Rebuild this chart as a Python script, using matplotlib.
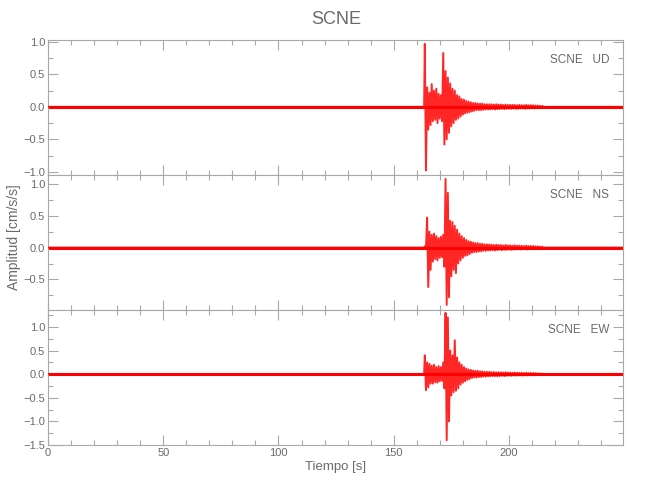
import numpy as np
import matplotlib
matplotlib.use("Agg")
import matplotlib.pyplot as plt
from matplotlib.ticker import MultipleLocator

# Colores estilo IDL
GRIS_EJE = "#a8a8a8"
GRIS_TXT = "#6a6a6a"
ROJO = "#ff0000"
FUENTE = ["Liberation Sans", "DejaVu Sans"]

estacion = "SCNE"
componentes = ["UD", "NS", "EW"]

# registro completo y ventana con movimiento fuerte
t_ini, t_fin = 0.0, 249.5
t0_evento = 163.5      # primer pico leido
dt = 1.0               # paso entre picos leidos [s]

# picos positivos / negativos por segundo
ud_max = [0.97, 0.30, 0.22, 0.35, 0.25, 0.28, 0.20, 0.18, 0.83, 0.55,
          0.45, 0.36, 0.28, 0.25, 0.18, 0.16, 0.12, 0.11, 0.09, 0.08,
          0.07, 0.06, 0.06, 0.05, 0.05, 0.05, 0.04, 0.04,
          0.04, 0.04, 0.035, 0.04, 0.035, 0.035, 0.03, 0.035, 0.03, 0.03,
          0.03, 0.03, 0.025, 0.03, 0.025, 0.025, 0.03, 0.025, 0.025, 0.025,
          0.02, 0.02, 0.015, 0.015]
ud_min = [-0.98, -0.35, -0.28, -0.22, -0.20, -0.25, -0.18, -0.22, -0.58, -0.50,
          -0.40, -0.30, -0.25, -0.20, -0.18, -0.15, -0.12, -0.10, -0.09, -0.08,
          -0.07, -0.06, -0.05, -0.05, -0.05, -0.045, -0.04, -0.04,
          -0.04, -0.035, -0.04, -0.035, -0.035, -0.03, -0.035, -0.03, -0.03, -0.03,
          -0.025, -0.03, -0.03, -0.025, -0.025, -0.03, -0.025, -0.025, -0.02, -0.025,
          -0.02, -0.02, -0.015, -0.015]

ns_max = [0.02, 0.47, 0.25, 0.20, 0.22, 0.18, 0.15, 0.17, 0.20, 1.08,
          0.86, 0.42, 0.40, 0.34, 0.28, 0.22, 0.18, 0.15, 0.12, 0.10,
          0.09, 0.08, 0.07, 0.07, 0.06, 0.06, 0.05, 0.05,
          0.05, 0.045, 0.04, 0.045, 0.04, 0.04, 0.035, 0.04, 0.035, 0.035,
          0.03, 0.035, 0.03, 0.03, 0.03, 0.025, 0.03, 0.025, 0.025, 0.025,
          0.02, 0.02, 0.015, 0.015]
ns_min = [-0.02, -0.62, -0.35, -0.22, -0.18, -0.20, -0.16, -0.15, -0.30, -0.90,
          -0.78, -0.45, -0.35, -0.40, -0.25, -0.20, -0.16, -0.13, -0.12, -0.10,
          -0.08, -0.07, -0.07, -0.06, -0.06, -0.05, -0.05, -0.045,
          -0.045, -0.04, -0.045, -0.04, -0.035, -0.04, -0.035, -0.035, -0.03, -0.035,
          -0.03, -0.03, -0.025, -0.03, -0.025, -0.025, -0.03, -0.025, -0.02, -0.025,
          -0.02, -0.02, -0.015, -0.015]

ew_max = [0.40, 0.25, 0.22, 0.18, 0.20, 0.15, 0.17, 0.15, 0.25, 1.30,
          1.20, 0.50, 0.40, 0.72, 0.35, 0.25, 0.20, 0.15, 0.12, 0.10,
          0.09, 0.08, 0.07, 0.07, 0.06, 0.06, 0.05, 0.05,
          0.05, 0.045, 0.045, 0.04, 0.04, 0.04, 0.035, 0.04, 0.035, 0.035,
          0.03, 0.035, 0.03, 0.03, 0.03, 0.025, 0.03, 0.025, 0.025, 0.025,
          0.02, 0.02, 0.015, 0.015]
ew_min = [-0.34, -0.28, -0.20, -0.20, -0.17, -0.18, -0.15, -0.14, -0.30, -1.40,
          -1.00, -0.45, -0.38, -0.35, -0.30, -0.22, -0.18, -0.15, -0.12, -0.10,
          -0.08, -0.07, -0.07, -0.06, -0.06, -0.05, -0.05, -0.045,
          -0.045, -0.04, -0.04, -0.045, -0.04, -0.035, -0.04, -0.035, -0.03, -0.035,
          -0.03, -0.03, -0.03, -0.025, -0.03, -0.025, -0.025, -0.025, -0.02, -0.025,
          -0.02, -0.02, -0.015, -0.015]

picos = [(ud_max, ud_min), (ns_max, ns_min), (ew_max, ew_min)]
limites_y = [(-1.05, 1.03), (-0.98, 1.14), (-1.50, 1.36)]
ruido_lw = 2.2   # grosor de la banda de ruido de fondo


def traza(vmax, vmin):
    """Arma la traza alternando pico positivo y negativo."""
    n = len(vmax)
    t_hi = t0_evento + dt * np.arange(n)
    t_lo = t_hi + dt / 2
    t = np.empty(2 * n)
    a = np.empty(2 * n)
    t[0::2], t[1::2] = t_hi, t_lo
    a[0::2], a[1::2] = vmax, vmin
    t = np.concatenate([[t_ini, t0_evento - 0.3], t, [t_lo[-1] + 0.5, t_fin]])
    a = np.concatenate([[0, 0], a, [0, 0]])
    return t, a


fig = plt.figure(figsize=(6.5, 5.0), dpi=100)
fig.patch.set_facecolor("white")

izq, der = 48 / 650, 623 / 650
abajo, arriba = 1 - 445 / 500, 1 - 40 / 500
alto = (arriba - abajo) / 3

for i, comp in enumerate(componentes):
    ax = fig.add_axes([izq, arriba - (i + 1) * alto, der - izq, alto])
    t, a = traza(*picos[i])
    ax.plot([t_ini, t_fin], [0, 0], color=ROJO, lw=ruido_lw, zorder=2)
    ax.plot(t, a, color=ROJO, lw=1.4, alpha=0.85, zorder=3)

    ax.set_xlim(t_ini, t_fin)
    ax.set_ylim(*limites_y[i])
    ax.xaxis.set_major_locator(MultipleLocator(50))
    ax.xaxis.set_minor_locator(MultipleLocator(10))
    ax.yaxis.set_major_locator(MultipleLocator(0.5))
    ax.yaxis.set_minor_locator(MultipleLocator(0.25))
    ax.tick_params(which="both", direction="in", top=True, right=True,
                   color=GRIS_EJE, width=0.8, labelcolor=GRIS_TXT,
                   labelsize=8, pad=2)
    ax.tick_params(which="major", length=7)
    ax.tick_params(which="minor", length=3.5)
    for lbl in ax.get_xticklabels() + ax.get_yticklabels():
        lbl.set_family(FUENTE)
    if i < 2:
        ax.tick_params(labelbottom=False)
    for s in ax.spines.values():
        s.set_edgecolor(GRIS_EJE)
        s.set_linewidth(0.8)

    ax.text(0.976, 0.85, f"{estacion}   {comp}", transform=ax.transAxes,
            ha="right", va="center", color=GRIS_TXT, fontsize=8.5,
            family=FUENTE)
    if i == 2:
        ax.set_xlabel("Tiempo [s]", color=GRIS_TXT, fontsize=9.5,
                      family=FUENTE, labelpad=2)

fig.text(0.518, 0.962, estacion, ha="center", va="center",
         color=GRIS_TXT, fontsize=13, family=FUENTE)
fig.text(0.021, 0.526, "Amplitud [cm/s/s]", rotation=90, ha="center",
         va="center", color=GRIS_TXT, fontsize=10, family=FUENTE)

fig.savefig("out.png", dpi=100, facecolor="white")
